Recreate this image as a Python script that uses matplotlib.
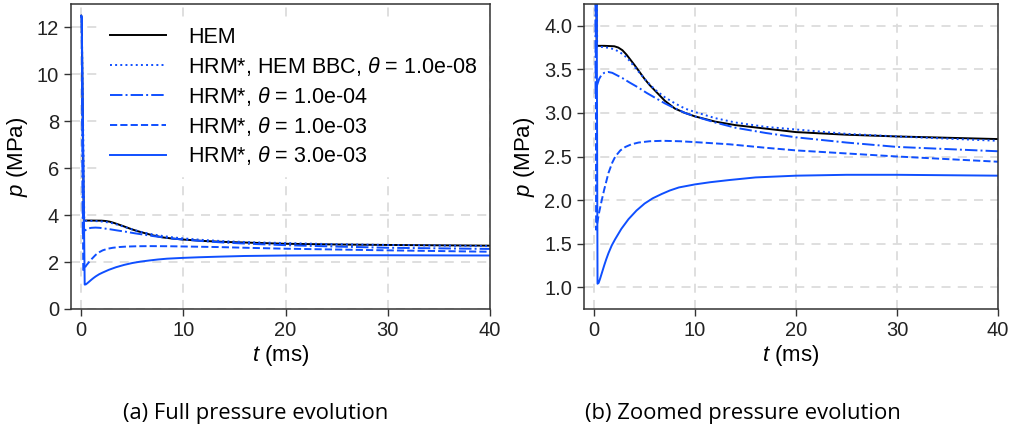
import matplotlib
matplotlib.use("Agg")
import matplotlib.pyplot as plt

# time samples (ms) and pressures (MPa)
t_hem = [0.0, 0.05, 0.25, 1.0, 2.0, 2.4, 2.8, 3.2, 3.6, 4.0, 4.5, 5.0, 5.5, 6.0, 7.0, 8.0, 9.0,
         10.0, 12.0, 14.0, 17.0, 20.0, 25.0, 30.0, 35.0, 40.0]
p_hem = [12.5, 12.4, 3.77, 3.77, 3.765, 3.75, 3.72, 3.67, 3.61, 3.55, 3.47, 3.39, 3.32, 3.26, 3.14, 3.05, 3.00,
         2.96, 2.90, 2.86, 2.82, 2.78, 2.75, 2.73, 2.715, 2.70]

t_bbc = [0.0, 0.05, 0.3, 1.0, 1.5, 2.0, 2.5, 3.0, 3.5, 4.0, 4.5, 5.0, 6.0, 7.0, 8.0, 9.0,
         10.0, 12.0, 14.0, 17.0, 20.0, 25.0, 30.0, 35.0, 40.0]
p_bbc = [12.5, 12.4, 3.76, 3.755, 3.745, 3.73, 3.70, 3.66, 3.60, 3.53, 3.46, 3.39, 3.27, 3.18, 3.11, 3.05,
         3.01, 2.94, 2.89, 2.84, 2.81, 2.76, 2.73, 2.705, 2.68]

t_th4 = [0.0, 0.05, 0.15, 0.3, 0.5, 0.75, 1.0, 1.4, 1.8, 2.3, 2.8, 3.5, 4.4, 5.2, 6.1, 7.0, 7.7, 9.0,
         10.0, 12.0, 14.0, 17.0, 20.0, 25.0, 30.0, 35.0, 40.0]
p_th4 = [12.5, 12.4, 3.21, 3.32, 3.39, 3.44, 3.46, 3.47, 3.46, 3.43, 3.40, 3.35, 3.29, 3.23, 3.17, 3.11, 3.07, 3.00,
         2.96, 2.89, 2.83, 2.77, 2.72, 2.66, 2.61, 2.585, 2.56]

t_th3 = [0.0, 0.05, 0.2, 0.35, 0.5, 0.76, 1.0, 1.42, 1.8, 2.1, 2.6, 3.1, 3.7, 4.4, 5.5, 6.8, 8.5,
         10.0, 13.4, 17.0, 20.0, 25.0, 30.0, 35.0, 40.0]
p_th3 = [12.5, 12.4, 1.66, 1.76, 1.86, 2.00, 2.12, 2.31, 2.43, 2.50, 2.57, 2.61, 2.64, 2.66, 2.675, 2.68, 2.675,
         2.665, 2.64, 2.60, 2.57, 2.535, 2.50, 2.47, 2.44]

t_th33 = [0.0, 0.05, 0.34, 0.45, 0.6, 0.76, 1.0, 1.2, 1.42, 1.75, 2.08, 2.7, 3.4, 4.2, 5.0, 5.8, 6.7, 7.5, 8.4,
          10.0, 11.5, 13.4, 16.0, 20.0, 25.0, 30.0, 35.0, 40.0]
p_th33 = [12.5, 12.4, 1.04, 1.05, 1.10, 1.16, 1.25, 1.32, 1.39, 1.48, 1.55, 1.67, 1.78, 1.88, 1.96, 2.02, 2.07, 2.11, 2.145,
          2.18, 2.205, 2.23, 2.26, 2.28, 2.29, 2.29, 2.285, 2.28]

labels = ["HEM",
          r"HRM*, HEM BBC, $\theta$ = 1.0e-08",
          r"HRM*, $\theta$ = 1.0e-04",
          r"HRM*, $\theta$ = 1.0e-03",
          r"HRM*, $\theta$ = 3.0e-03"]

blue = "#0f4fff"
series = [(t_hem, p_hem, "black", "-"),
          (t_bbc, p_bbc, blue, ":"),
          (t_th4, p_th4, blue, "-."),
          (t_th3, p_th3, blue, "--"),
          (t_th33, p_th33, blue, "-")]

plt.rcParams["font.family"] = ["Liberation Sans", "DejaVu Sans"]
plt.rcParams["mathtext.fontset"] = "custom"
plt.rcParams["mathtext.it"] = "Liberation Sans:italic"
plt.rcParams["mathtext.rm"] = "Liberation Sans"

fig = plt.figure(figsize=(10.11, 4.30), dpi=100)
ax1 = fig.add_axes([71 / 1011, 1 - 309 / 430, 419 / 1011, 305 / 430])
ax2 = fig.add_axes([584 / 1011, 1 - 309 / 430, 414 / 1011, 305 / 430])


def style(ax):
    ax.grid(True, color="#dcdcdc", linestyle=(0, (5, 4)), linewidth=1.3)
    ax.set_axisbelow(True)
    for s in ax.spines.values():
        s.set_color("#333333")
        s.set_linewidth(1.1)
    ax.tick_params(direction="out", length=5, width=1.0, color="#333333",
                   labelsize=14.5, labelcolor="#222222")
    ax.set_xlim(-1, 40)
    ax.set_xticks([0, 10, 20, 30, 40])
    ax.set_xlabel(r"$t$ (ms)", fontsize=16, labelpad=2)
    ax.set_ylabel(r"$p$ (MPa)", fontsize=16, labelpad=5)


for ax in (ax1, ax2):
    for (t, p, c, ls), lab in zip(series, labels):
        ax.plot(t, p, color=c, linestyle=ls, linewidth=1.4, label=lab)
    style(ax)

ax1.set_ylim(0, 13)
ax1.set_yticks([0, 2, 4, 6, 8, 10, 12])
ax2.set_ylim(0.75, 4.25)
ax2.set_yticks([1.0, 1.5, 2.0, 2.5, 3.0, 3.5, 4.0])

leg = ax1.legend(loc="upper right", bbox_to_anchor=(1.0, 1 - 10 / 305), fontsize=15.5,
                 frameon=True, framealpha=1, edgecolor="white", facecolor="white",
                 handlelength=2.6, labelspacing=0.32, borderaxespad=0.2, handletextpad=1.0)

fig.text(256 / 1011, 1 - 413 / 430, "(a) Full pressure evolution",
         ha="center", va="center", fontsize=15.8, family="Open Sans")
fig.text(743 / 1011, 1 - 413 / 430, "(b) Zoomed pressure evolution",
         ha="center", va="center", fontsize=15.8, family="Open Sans")

fig.savefig("out.png", dpi=100)
